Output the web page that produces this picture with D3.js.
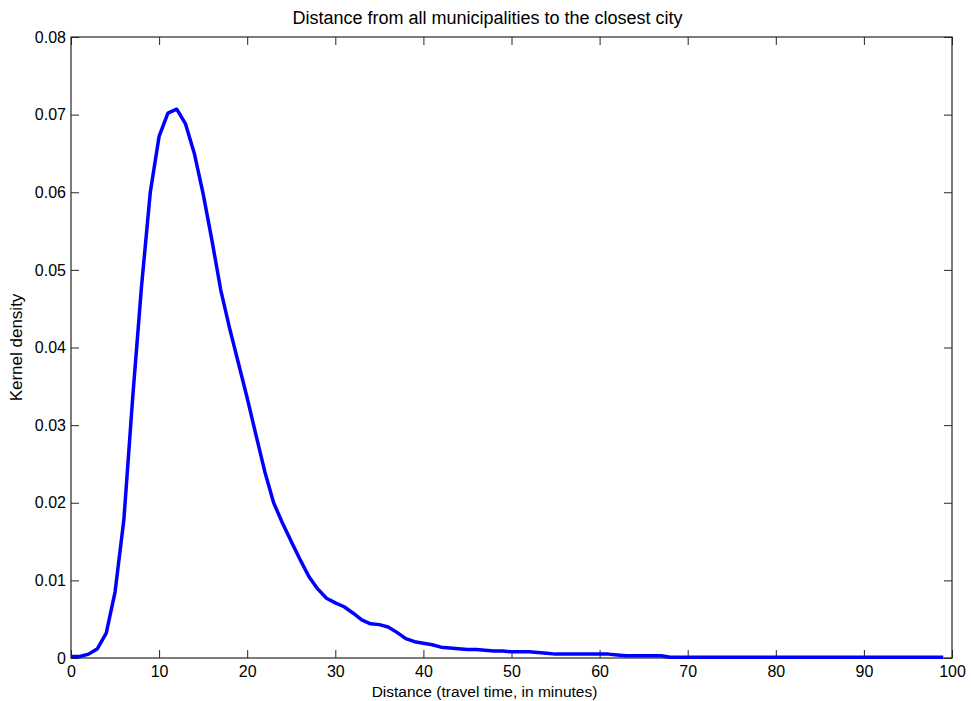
<!DOCTYPE html>
<html>
<head>
<meta charset="utf-8">
<script src="https://cdn.jsdelivr.net/npm/d3@7"></script>
<style>
  body { margin: 0; background: #fff; }
  text { font-family: "Liberation Sans", Arial, sans-serif; fill: #000; }
</style>
</head>
<body>
<div id="chart"></div>
<script>
// travel time in minutes (grid of the density estimate)
var minutes = d3.range(0, 100);

// kernel density values, one per minute
var density = [
  0.0002, 0.0002, 0.0005, 0.0012, 0.0032, 0.0085, 0.0178, 0.0335, 0.0478, 0.0600,
  0.0672, 0.0702, 0.0707, 0.0688, 0.0650, 0.0598, 0.0538, 0.0474, 0.0425, 0.0380,
  0.0335, 0.0287, 0.0240, 0.0200, 0.0174, 0.0150, 0.0127, 0.0105, 0.0089, 0.0077,
  0.0071, 0.0066, 0.0058, 0.0049, 0.0044, 0.0043, 0.0040, 0.0033, 0.0025, 0.0021,
  0.0019, 0.0017, 0.0014, 0.0013, 0.0012, 0.0011, 0.0011, 0.0010, 0.0009, 0.0009,
  0.0008, 0.0008, 0.0008, 0.0007, 0.0006, 0.0005, 0.0005, 0.0005, 0.0005, 0.0005,
  0.0005, 0.0005, 0.0004, 0.0003, 0.0003, 0.0003, 0.0003, 0.0003, 0.0001, 0.0001,
  0.0001, 0.0001, 0.0001, 0.0001, 0.0001, 0.0001, 0.0001, 0.0001, 0.0001, 0.0001,
  0.0001, 0.0001, 0.0001, 0.0001, 0.0001, 0.0001, 0.0001, 0.0001, 0.0001, 0.0001,
  0.0001, 0.0001, 0.0001, 0.0001, 0.0001, 0.0001, 0.0001, 0.0001, 0.0001, 0.0001
];

var xTicks = [0, 10, 20, 30, 40, 50, 60, 70, 80, 90, 100];
var yTicks = [0, 0.01, 0.02, 0.03, 0.04, 0.05, 0.06, 0.07, 0.08];

var titleText = 'Distance from all municipalities to the closest city';
var xLabel = 'Distance (travel time, in minutes)';
var yLabel = 'Kernel density';

var width = 971, height = 701;
var margin = {left: 71, right: 19, top: 37, bottom: 43};

var svg = d3.select('#chart')
  .append('svg')
  .attr('width', width)
  .attr('height', height);

var x = d3.scaleLinear().domain([0, 100]).range([margin.left, width - margin.right]);
var y = d3.scaleLinear().domain([0, 0.08]).range([height - margin.bottom, margin.top]);

var tickLen = 8;
var fmtY = function(d){ return d === 0 ? '0' : d3.format('.2f')(d); };

// bottom & left axes with inward ticks
svg.append('g')
  .attr('transform', 'translate(0,' + y(0) + ')')
  .call(d3.axisBottom(x).tickValues(xTicks).tickSizeInner(-tickLen).tickSizeOuter(0).tickPadding(8))
  .call(function(g){
    g.select('.domain').remove();
    g.selectAll('line').attr('stroke', '#262626');
    g.selectAll('text').attr('font-size', 16).attr('font-family', '"Liberation Sans", Arial, sans-serif');
  });

svg.append('g')
  .attr('transform', 'translate(' + x(0) + ',0)')
  .call(d3.axisLeft(y).tickValues(yTicks).tickFormat(fmtY).tickSizeInner(-tickLen).tickSizeOuter(0).tickPadding(5))
  .call(function(g){
    g.select('.domain').remove();
    g.selectAll('line').attr('stroke', '#262626');
    g.selectAll('text').attr('font-size', 16).attr('font-family', '"Liberation Sans", Arial, sans-serif');
  });

// top & right ticks, no labels
svg.append('g')
  .attr('transform', 'translate(0,' + y(0.08) + ')')
  .call(d3.axisTop(x).tickValues(xTicks).tickSizeInner(-tickLen).tickSizeOuter(0).tickFormat(''))
  .call(function(g){ g.select('.domain').remove(); g.selectAll('line').attr('stroke', '#262626'); });

svg.append('g')
  .attr('transform', 'translate(' + x(100) + ',0)')
  .call(d3.axisRight(y).tickValues(yTicks).tickSizeInner(-tickLen).tickSizeOuter(0).tickFormat(''))
  .call(function(g){ g.select('.domain').remove(); g.selectAll('line').attr('stroke', '#262626'); });

// box
svg.append('rect')
  .attr('x', x(0)).attr('y', y(0.08))
  .attr('width', x(100) - x(0)).attr('height', y(0) - y(0.08))
  .attr('fill', 'none').attr('stroke', '#262626').attr('stroke-width', 1.2);

var line = d3.line()
  .x(function(d, i){ return x(minutes[i]); })
  .y(function(d){ return y(d); });

svg.append('path')
  .datum(density)
  .attr('d', line)
  .attr('fill', 'none')
  .attr('stroke', '#0000ff')
  .attr('stroke-width', 3.5)
  .attr('stroke-linejoin', 'round');

svg.append('text')
  .attr('x', (x(0) + x(100)) / 2 - 24).attr('y', 24)
  .attr('text-anchor', 'middle').attr('font-size', 18)
  .text(titleText);

svg.append('text')
  .attr('x', (x(0) + x(100)) / 2 - 27).attr('y', 697)
  .attr('text-anchor', 'middle').attr('font-size', 15.5)
  .text(xLabel);

svg.append('text')
  .attr('transform', 'translate(22,' + (y(0.04)) + ') rotate(-90)')
  .attr('text-anchor', 'middle').attr('font-size', 17)
  .text(yLabel);
</script>
</body>
</html>
